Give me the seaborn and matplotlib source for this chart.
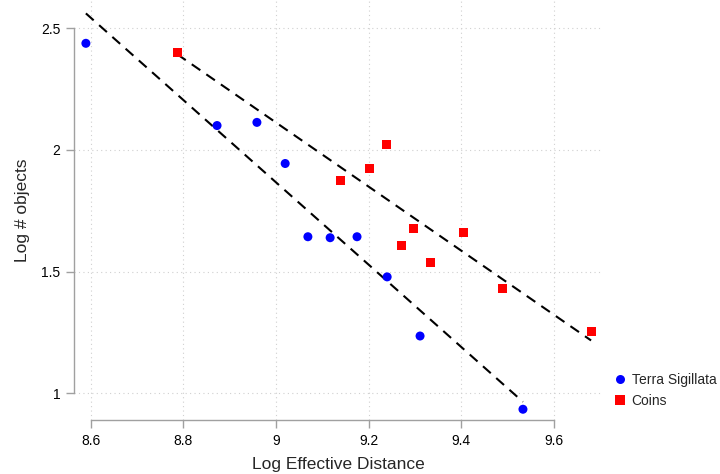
import matplotlib
matplotlib.use("Agg")
import matplotlib.pyplot as plt
import seaborn as sns
import pandas as pd
import numpy as np

# Data
ts_x = [8.590, 8.873, 8.959, 9.020, 9.069, 9.117, 9.175, 9.240, 9.311, 9.533]
ts_y = [2.438, 2.100, 2.113, 1.944, 1.643, 1.639, 1.643, 1.478, 1.235, 0.934]
coin_x = [8.787, 9.139, 9.201, 9.238, 9.271, 9.297, 9.333, 9.404, 9.488, 9.680]
coin_y = [2.400, 1.873, 1.922, 2.021, 1.609, 1.675, 1.539, 1.662, 1.432, 1.254]
series = ["Terra Sigillata", "Coins"]
x_ticks = [8.6, 8.8, 9.0, 9.2, 9.4, 9.6]
x_ticklabels = ["8.6", "8.8", "9", "9.2", "9.4", "9.6"]
y_ticks = [1.0, 1.5, 2.0, 2.5]
y_ticklabels = ["1", "1.5", "2", "2.5"]

df = pd.DataFrame({
    "x": ts_x + coin_x,
    "y": ts_y + coin_y,
    "group": [series[0]] * len(ts_x) + [series[1]] * len(coin_x),
})

sns.set_style("white")
plt.rcParams["font.family"] = ["Liberation Sans", "DejaVu Sans"]

fig = plt.figure(figsize=(7.2, 4.74), dpi=100)
ax = fig.add_axes([0.1028, 0.113, 0.7347, 0.887])

for g in series:
    sub = df[df.group == g]
    sns.regplot(data=sub, x="x", y="y", ax=ax, scatter=False, ci=None,
                truncate=True,
                line_kws=dict(color="black", lw=1.5, ls=(0, (5, 3.5))))

sns.scatterplot(data=df, x="x", y="y", hue="group", style="group",
                hue_order=series, style_order=series,
                palette={"Terra Sigillata": "#0000ff", "Coins": "#ff0000"},
                markers={"Terra Sigillata": "o", "Coins": "s"},
                s=42, linewidth=0, ax=ax, zorder=3)

ax.set_xlim(8.5644, 9.7057)
ax.set_ylim(0.888, 2.616)
ax.set_xticks(x_ticks)
ax.set_xticklabels(x_ticklabels)
ax.set_yticks(y_ticks)
ax.set_yticklabels(y_ticklabels)
ax.grid(True, color="#d0d0d0", ls=(0, (1, 3)), lw=0.8)
for s in ["top", "right"]:
    ax.spines[s].set_visible(False)
ax.spines["left"].set_bounds(1.0, 2.5)
ax.spines["bottom"].set_bounds(8.6, 9.6)
for s in ["left", "bottom"]:
    ax.spines[s].set_color("#a0a0a0")
    ax.spines[s].set_linewidth(1.0)
ax.tick_params(axis="both", which="major", length=6, width=1.0, color="#a0a0a0",
               labelsize=10, labelcolor="black", direction="out", pad=4,
               bottom=True, left=True)
ax.set_xlabel("Log Effective Distance", fontsize=12.5, labelpad=6)
ax.set_ylabel("Log # objects", fontsize=12.5, labelpad=8)

leg = ax.legend(loc="center left", bbox_to_anchor=(0.8424, 0.1756),
                bbox_transform=fig.transFigure, frameon=False, fontsize=10,
                handletextpad=0.3, borderpad=0, labelspacing=0.5,
                handlelength=1.0, markerscale=1.0)

fig.savefig("out.png", dpi=100)
